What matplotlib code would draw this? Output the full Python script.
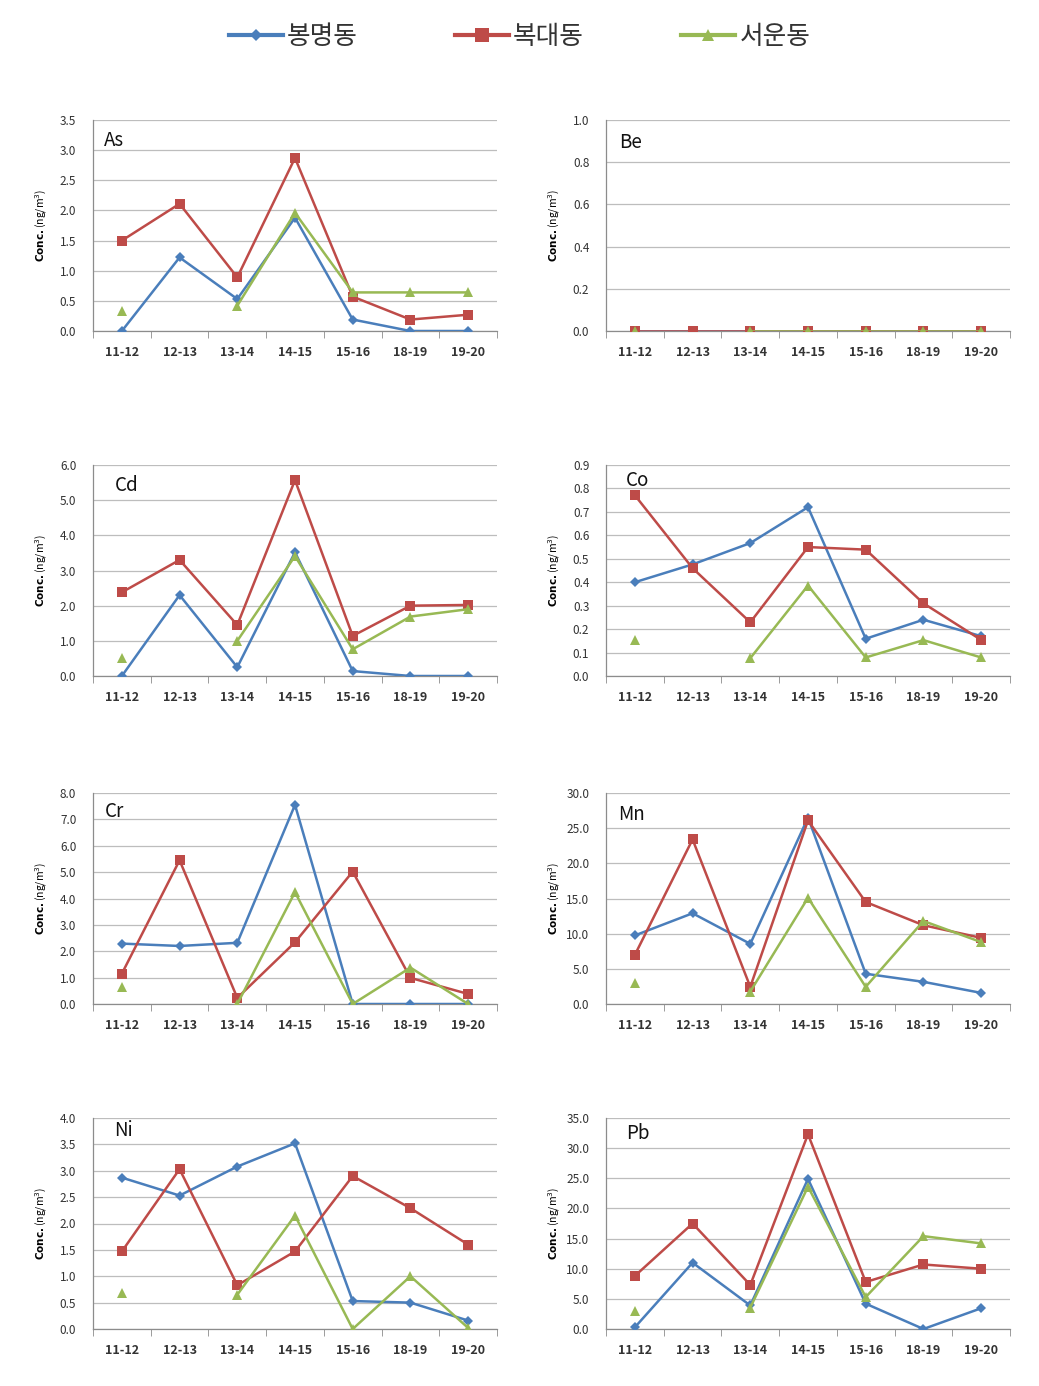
import numpy as np
import matplotlib.pyplot as plt
from matplotlib.ticker import MultipleLocator, FormatStrFormatter

plt.rcParams['font.family'] = ['Noto Sans CJK KR', 'DejaVu Sans']

# 측정 기간 (x축)
periods = ['11-12', '12-13', '13-14', '14-15', '15-16', '18-19', '19-20']
sites = ['봉명동', '복대동', '서운동']
nan = np.nan

# 원소별 농도 (ng/m3) - 봉명동, 복대동, 서운동 순
as_bm = [0.0, 1.22, 0.53, 1.88, 0.19, 0.0, 0.0]
as_bd = [1.50, 2.11, 0.89, 2.87, 0.57, 0.19, 0.27]
as_sw = [0.33, nan, 0.42, 1.96, 0.64, 0.64, 0.64]

be_bm = [0.0, 0.0, 0.0, 0.0, 0.0, 0.0, 0.0]
be_bd = [0.0, 0.0, 0.0, 0.0, 0.0, 0.0, 0.0]
be_sw = [0.0, nan, 0.0, 0.0, 0.0, 0.0, 0.0]

cd_bm = [0.0, 2.30, 0.25, 3.52, 0.14, 0.0, 0.0]
cd_bd = [2.38, 3.30, 1.45, 5.57, 1.14, 2.00, 2.02]
cd_sw = [0.52, nan, 1.00, 3.41, 0.76, 1.69, 1.90]

co_bm = [0.40, 0.476, 0.567, 0.72, 0.159, 0.24, 0.17]
co_bd = [0.771, 0.46, 0.229, 0.55, 0.539, 0.31, 0.154]
co_sw = [0.153, nan, 0.076, 0.386, 0.079, 0.153, 0.079]

cr_bm = [2.29, 2.20, 2.32, 7.55, 0.0, 0.0, 0.0]
cr_bd = [1.15, 5.45, 0.23, 2.34, 5.02, 0.99, 0.38]
cr_sw = [0.65, nan, 0.0, 4.24, 0.0, 1.38, 0.0]

mn_bm = [9.75, 12.9, 8.55, 26.5, 4.3, 3.15, 1.58]
mn_bd = [6.98, 23.4, 2.44, 26.1, 14.5, 11.2, 9.4]
mn_sw = [3.0, nan, 1.77, 15.1, 2.44, 11.8, 8.8]

ni_bm = [2.87, 2.53, 3.08, 3.52, 0.53, 0.50, 0.16]
ni_bd = [1.47, 3.03, 0.83, 1.47, 2.90, 2.29, 1.60]
ni_sw = [0.68, nan, 0.65, 2.15, 0.0, 1.00, 0.02]

pb_bm = [0.28, 11.0, 3.9, 24.9, 4.2, 0.0, 3.44]
pb_bd = [8.8, 17.5, 7.3, 32.3, 7.8, 10.7, 10.0]
pb_sw = [3.05, nan, 3.55, 23.6, 5.3, 15.4, 14.2]

elements = ['As', 'Be', 'Cd', 'Co', 'Cr', 'Mn', 'Ni', 'Pb']
series = [(as_bm, as_bd, as_sw), (be_bm, be_bd, be_sw), (cd_bm, cd_bd, cd_sw),
          (co_bm, co_bd, co_sw), (cr_bm, cr_bd, cr_sw), (mn_bm, mn_bd, mn_sw),
          (ni_bm, ni_bd, ni_sw), (pb_bm, pb_bd, pb_sw)]
y_max = [3.5, 1.0, 6.0, 0.9, 8.0, 30.0, 4.0, 35.0]
y_step = [0.5, 0.2, 1.0, 0.1, 1.0, 5.0, 0.5, 5.0]

# 스타일
colors = ['#4A7EBB', '#BE4B48', '#98B954']
markers = ['D', 's', '^']
msizes = [5, 7.5, 7]
grid_c = '#BDBDBD'
axis_c = '#8C8C8C'

# 레이아웃 (figure 비율)
W, H = 1039, 1386
col_left = [93, 606]
row_top = [120, 465, 793, 1118]
ax_w, ax_h = 404, 211
title_xy = [(0.027, 0.905), (0.032, 0.895), (0.054, 0.905), (0.05, 0.925),
            (0.03, 0.91), (0.03, 0.9), (0.052, 0.94), (0.05, 0.925)]

fig = plt.figure(figsize=(W / 100, H / 100), dpi=100)

x = np.arange(len(periods))
handles = []
for k, el in enumerate(elements):
    r, c = divmod(k, 2)
    ax = fig.add_axes([col_left[c] / W, 1 - (row_top[r] + ax_h) / H, ax_w / W, ax_h / H])
    for i, vals in enumerate(series[k]):
        ln, = ax.plot(x, vals, color=colors[i], marker=markers[i], markersize=msizes[i],
                      lw=1.8, markeredgewidth=0, zorder=3 + i)
        if k == 0:
            handles.append(ln)
    ax.set_xlim(-0.5, len(periods) - 0.5)
    ax.set_ylim(0, y_max[k])
    ax.yaxis.set_major_locator(MultipleLocator(y_step[k]))
    ax.yaxis.set_major_formatter(FormatStrFormatter('%.1f'))
    ax.grid(axis='y', color=grid_c, lw=0.9)
    ax.set_axisbelow(True)
    ax.set_xticks(x)
    ax.set_xticklabels(periods, fontsize=9, fontweight='bold', color='#333333')
    ax.set_xticks(np.arange(-0.5, len(periods)), minor=True)
    ax.tick_params(axis='x', which='major', length=0, pad=11)
    ax.tick_params(axis='x', which='minor', length=5, color=axis_c, direction='out')
    ax.tick_params(axis='y', length=0, labelsize=8.5, pad=12, labelcolor='#333333')
    for s in ['top', 'right']:
        ax.spines[s].set_visible(False)
    for s in ['left', 'bottom']:
        ax.spines[s].set_color(axis_c)
        ax.spines[s].set_linewidth(0.9)
    ax.set_ylabel(r'$\bf{Conc.}$(ng/m$^3$)', fontsize=7.5)
    ax.yaxis.set_label_coords(-0.11, 0.5)
    ax.text(title_xy[k][0], title_xy[k][1], el, transform=ax.transAxes,
            fontsize=13.5, va='center', ha='left', color='#111111', zorder=10)

leg = fig.legend(handles, sites, loc='center', bbox_to_anchor=(0.5, 1 - 37 / H), ncol=3,
                 frameon=False, fontsize=18.5, handlelength=2.1, columnspacing=3.8,
                 handletextpad=0.15, markerscale=1.3)
for h in leg.legend_handles:
    h.set_linewidth(3)
for t in leg.get_texts():
    t.set_color('#333333')

fig.savefig('out.png', dpi=100)
